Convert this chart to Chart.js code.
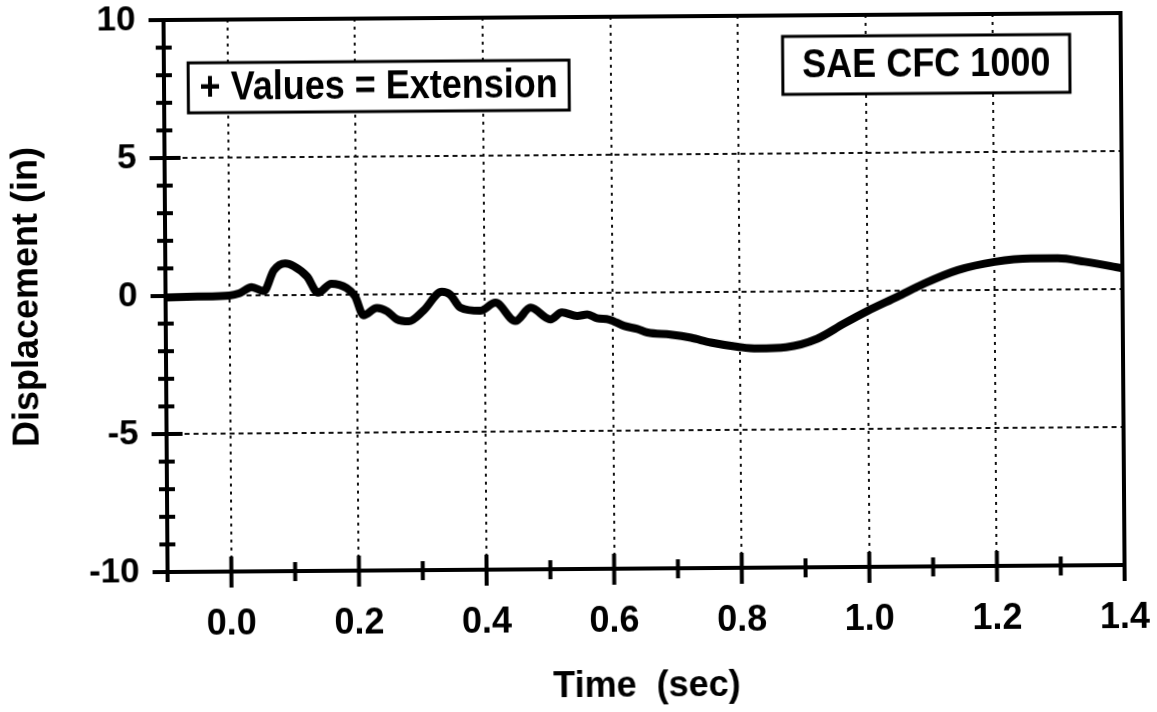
<!DOCTYPE html>
<html>
<head>
<meta charset="utf-8">
<script src="https://cdn.jsdelivr.net/npm/chart.js@4/dist/chart.umd.min.js"></script>
<style>
  html, body { margin: 0; padding: 0; background: #fff; }
  #wrap { width: 1157px; height: 712px; overflow: hidden; }
  /* the scanned original is tilted a little */
  #disp-chart { transform: rotate(-0.42deg); transform-origin: 50% 50%; }
</style>
</head>
<body>
<div id="wrap"><canvas id="disp-chart" width="1157" height="712"></canvas></div>
<script>
// time (sec) and displacement (in)
const times = [-0.1, -0.05, 0.0, 0.016, 0.035, 0.054, 0.07, 0.088, 0.101, 0.122, 0.139, 0.16, 0.184, 0.197,
  0.21, 0.231, 0.247, 0.262, 0.281, 0.304, 0.333, 0.346, 0.362, 0.393, 0.417, 0.448, 0.472, 0.503, 0.521,
  0.545, 0.561, 0.576, 0.595, 0.618, 0.639, 0.655, 0.691, 0.723, 0.754, 0.796, 0.827, 0.872, 0.921, 0.963,
  1.0, 1.047, 1.089, 1.142, 1.2, 1.257, 1.299, 1.341, 1.4];
const displacement = [-0.05, -0.03, 0.0, 0.08, 0.3, 0.15, 0.9, 1.15, 1.05, 0.67, 0.08, 0.4, 0.24, -0.06,
  -0.75, -0.49, -0.61, -0.9, -0.98, -0.6, 0.08, -0.02, -0.5, -0.62, -0.33, -1.0, -0.52, -0.95, -0.7,
  -0.83, -0.78, -0.92, -0.97, -1.2, -1.32, -1.45, -1.53, -1.65, -1.83, -1.99, -2.06, -2.02, -1.72, -1.18,
  -0.73, -0.22, 0.25, 0.73, 1.02, 1.13, 1.13, 1.0, 0.75];

const xMajorTicks = [0.0, 0.2, 0.4, 0.6, 0.8, 1.0, 1.2, 1.4];
const xMinorTicks = [-0.1, 0.1, 0.3, 0.5, 0.7, 0.9, 1.1, 1.3];
const yMajorTicks = [-10, -5, 0, 5, 10];
const yMinorTicks = [-9, -8, -7, -6, -4, -3, -2, -1, 1, 2, 3, 4, 6, 7, 8, 9];

const xTitle = 'Time  (sec)';
const yTitle = 'Displacement (in)';
const signNote = '+ Values = Extension';
const filterNote = 'SAE CFC 1000';

const FONT = '"Liberation Sans", Arial, Helvetica, sans-serif';

function near(list, v) {
  return list.some(t => Math.abs(t - v) < 1e-6);
}

function strokeLine(ctx, x1, y1, x2, y2) {
  ctx.beginPath();
  ctx.moveTo(x1, y1);
  ctx.lineTo(x2, y2);
  ctx.stroke();
}

function drawNote(ctx, x, y, box, text) {
  const left = x.getPixelForValue(box[0]);
  const right = x.getPixelForValue(box[1]);
  const top = y.getPixelForValue(box[2]);
  const bottom = y.getPixelForValue(box[3]);
  ctx.fillStyle = '#fff';
  ctx.fillRect(left, top, right - left, bottom - top);
  ctx.lineWidth = 3;
  ctx.strokeRect(left, top, right - left, bottom - top);
  ctx.save();
  ctx.translate((left + right) / 2, (top + bottom) / 2 + 1);
  ctx.scale(1, 1.15);
  ctx.fillStyle = '#000';
  ctx.font = 'bold 36px ' + FONT;
  ctx.textAlign = 'center';
  ctx.textBaseline = 'middle';
  ctx.fillText(text, 0, 0);
  ctx.restore();
}

// frame, crossing tick marks and the two labelled boxes
const framePlugin = {
  id: 'frameAndNotes',
  afterDraw(chart) {
    const { ctx, chartArea: a, scales: { x, y } } = chart;
    ctx.save();
    ctx.strokeStyle = '#000';
    ctx.lineCap = 'butt';
    ctx.lineWidth = 4;
    ctx.beginPath();
    ctx.moveTo(a.left, a.bottom);
    ctx.lineTo(a.left, a.top);
    ctx.lineTo(a.right, a.top);
    ctx.lineTo(a.right, a.bottom);
    ctx.lineTo(a.left, a.bottom);
    ctx.stroke();

    yMajorTicks.forEach(v => {
      const py = y.getPixelForValue(v);
      strokeLine(ctx, a.left - 15, py, a.left + 16, py);
    });
    yMinorTicks.forEach(v => {
      const py = y.getPixelForValue(v);
      strokeLine(ctx, a.left - 8, py, a.left + 8, py);
    });
    xMajorTicks.forEach(v => {
      const px = x.getPixelForValue(v);
      strokeLine(ctx, px, a.bottom - 15, px, a.bottom + 16);
    });
    xMinorTicks.forEach(v => {
      const px = x.getPixelForValue(v);
      strokeLine(ctx, px, a.bottom - 9, px, a.bottom + 10);
    });

    drawNote(ctx, x, y, [-0.062, 0.535, 8.44, 6.63], signNote);
    drawNote(ctx, x, y, [0.87, 1.32, 9.24, 7.14], filterNote);
    ctx.restore();
  }
};

const ctx = document.getElementById('disp-chart').getContext('2d');

new Chart(ctx, {
  type: 'line',
  data: {
    datasets: [{
      data: times.map((t, i) => ({ x: t, y: displacement[i] })),
      borderColor: '#000',
      borderWidth: 8,
      borderCapStyle: 'round',
      borderJoinStyle: 'round',
      cubicInterpolationMode: 'monotone',
      pointRadius: 0,
      fill: false,
    }],
  },
  options: {
    responsive: false,
    animation: false,
    layout: { padding: { top: 17, right: 34, left: 0, bottom: 0 } },
    plugins: {
      legend: { display: false },
      tooltip: { enabled: false },
    },
    scales: {
      x: {
        type: 'linear',
        min: -0.1,
        max: 1.4,
        afterBuildTicks: (scale) => {
          scale.ticks = [...xMinorTicks, ...xMajorTicks].sort((p, q) => p - q).map(v => ({ value: v }));
        },
        afterFit: (scale) => {
          scale.height = 143;
          scale.paddingLeft = 0;
          scale.paddingRight = 0;
        },
        ticks: {
          autoSkip: false,
          maxRotation: 0,
          padding: 31,
          color: '#000',
          font: { family: FONT, size: 36, weight: 'bold' },
          callback: (v) => (near(xMajorTicks, v) ? Number(v).toFixed(1) : ''),
        },
        grid: {
          drawTicks: false,
          lineWidth: 2,
          color: (c) => (c.tick && near(xMajorTicks, c.tick.value) && c.tick.value > -0.05 && c.tick.value < 1.3 ? '#111' : 'rgba(0,0,0,0)'),
        },
        border: { display: false, dash: [3, 5] },
        title: {
          display: true,
          text: xTitle,
          color: '#000',
          font: { family: FONT, size: 36, weight: 'bold' },
          padding: { top: 0, bottom: 3 },
        },
      },
      y: {
        min: -10,
        max: 10,
        afterBuildTicks: (scale) => {
          scale.ticks = yMajorTicks.map(v => ({ value: v }));
        },
        afterFit: (scale) => {
          scale.width = 166;
          scale.paddingTop = 0;
          scale.paddingBottom = 0;
        },
        ticks: {
          padding: 28,
          color: '#000',
          font: { family: FONT, size: 35, weight: 'bold' },
          callback: (v) => String(v),
        },
        grid: {
          drawTicks: false,
          lineWidth: 2,
          color: (c) => (c.tick && Math.abs(c.tick.value) < 6 ? '#111' : 'rgba(0,0,0,0)'),
        },
        border: { display: false, dash: [5, 4] },
        title: {
          display: true,
          text: yTitle,
          color: '#000',
          font: { family: FONT, size: 36, weight: 'bold' },
          padding: { top: 6, bottom: 0 },
        },
      },
    },
  },
  plugins: [framePlugin],
});
</script>
</body>
</html>
